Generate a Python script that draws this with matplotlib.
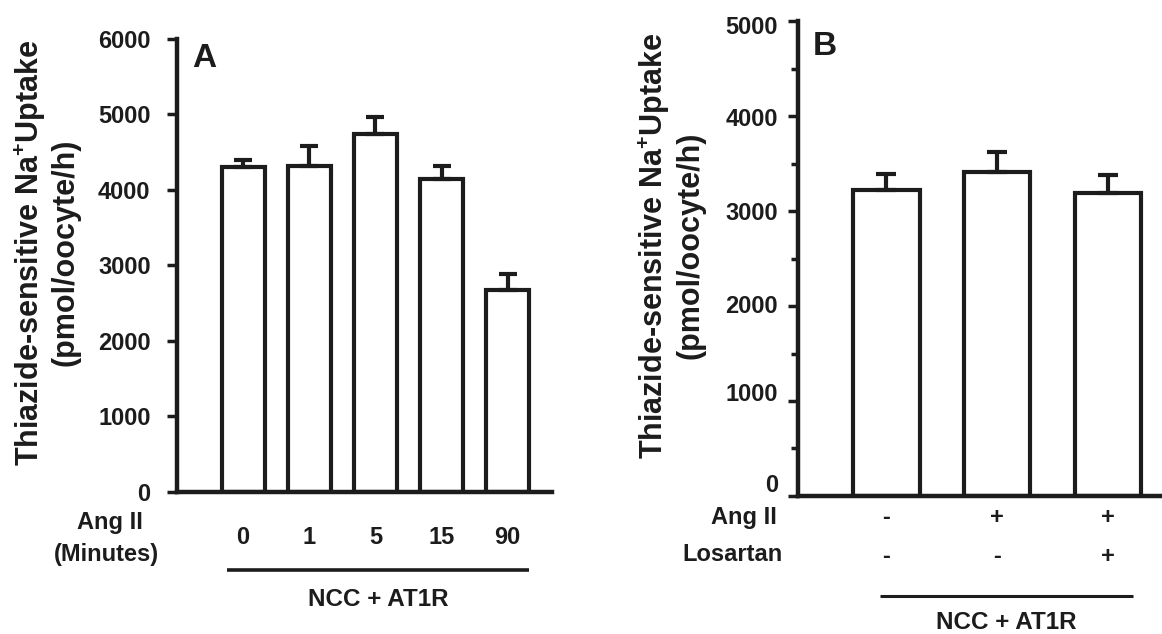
import numpy as np
import matplotlib
matplotlib.use('Agg')
import matplotlib.pyplot as plt
from matplotlib import transforms

plt.rcParams['font.family'] = 'Liberation Sans'
plt.rcParams['font.weight'] = 'bold'
plt.rcParams['mathtext.fontset'] = 'custom'
plt.rcParams['mathtext.rm'] = 'Liberation Sans:bold'
plt.rcParams['mathtext.it'] = 'Liberation Sans:bold'
plt.rcParams['mathtext.bf'] = 'Liberation Sans:bold'

INK = '#1c1c1c'

# panel A: Ang II time course
minutes = ['0', '1', '5', '15', '90']
uptake_a = [4305, 4320, 4742, 4146, 2675]
sem_a = [95, 263, 225, 172, 212]

# panel B: Ang II +/- losartan
ang_ii = ['-', '+', '+']
losartan = ['-', '-', '+']
uptake_b = [3221, 3410, 3190]
sem_b = [168, 211, 189]

ylabel = 'Thiazide-sensitive Na$^{+}$Uptake\n(pmol/oocyte/h)'

fig = plt.figure(figsize=(11.62, 6.34), dpi=100)
ax_a = fig.add_axes([0.1523, 0.224, 0.3227, 0.7145])
ax_b = fig.add_axes([0.6867, 0.2177, 0.3115, 0.749])


def style_axes(ax):
    for s in ['top', 'right']:
        ax.spines[s].set_visible(False)
    for s in ['left', 'bottom']:
        ax.spines[s].set_linewidth(3.2)
        ax.spines[s].set_color(INK)
    ax.set_xticks([])


def draw_bars(ax, x, h, err, width, cap):
    ax.bar(x, h, width=width, color='white', edgecolor=INK, linewidth=3,
           yerr=[np.zeros(len(err)), err], capsize=cap,
           error_kw=dict(ecolor=INK, elinewidth=3, capthick=3))


# ---- panel A
style_axes(ax_a)
xa = np.arange(1, len(minutes) + 1)
draw_bars(ax_a, xa, uptake_a, sem_a, 0.65, 6.2)
ax_a.set_xlim(0, 5.67)
ax_a.set_ylim(0, 6000)
ax_a.set_yticks(np.arange(0, 6001, 1000))
ax_a.tick_params(axis='y', direction='out', length=7, width=2.5, pad=12,
                 labelsize=17, colors=INK)
ax_a.text(0.04, 0.938, 'A', transform=ax_a.transAxes, fontsize=24, color=INK)
ax_a.text(-0.348, 0.528, ylabel, transform=ax_a.transAxes, rotation=90,
          ha='center', va='center', multialignment='center', fontsize=22,
          color=INK, linespacing=1.15)

trans_a = transforms.blended_transform_factory(ax_a.transData, ax_a.transAxes)
for x, m in zip(xa, minutes):
    ax_a.text(x, -0.101, m, transform=trans_a, ha='center', va='center',
              fontsize=17, color=INK)
ax_a.text(-0.179, -0.068, 'Ang II', transform=ax_a.transAxes, ha='center',
          va='center', fontsize=17, color=INK)
ax_a.text(-0.189, -0.139, '(Minutes)', transform=ax_a.transAxes, ha='center',
          va='center', fontsize=17, color=INK)
ax_a.plot([xa[0] - 0.25, xa[-1] + 0.33], [-0.172, -0.172], transform=trans_a,
          clip_on=False, lw=2.6, color=INK, solid_capstyle='butt')
ax_a.text((xa[0] + xa[-1]) / 2 + 0.04, -0.238, 'NCC + AT1R', transform=trans_a,
          ha='center', va='center', fontsize=17.5, color=INK)

# ---- panel B
style_axes(ax_b)
xb = np.arange(1, len(uptake_b) + 1)
draw_bars(ax_b, xb, uptake_b, sem_b, 0.6, 7.2)
ax_b.set_xlim(0.2, 3.47)
ax_b.set_ylim(0, 5000)
ax_b.set_yticks(np.arange(0, 5001, 1000))
ax_b.set_yticks(np.arange(500, 5000, 1000), minor=True)
ax_b.tick_params(axis='y', which='major', direction='out', length=7.5,
                 width=2.5, pad=7, labelsize=17, colors=INK)
ax_b.tick_params(axis='y', which='minor', direction='out', length=5,
                 width=2.5, colors=INK)
# the printed labels drift a little against their ticks
for lab, dy in zip(ax_b.get_yticklabels(), [9, 6.5, 1.5, 0, -1, -3]):
    lab.set_transform(lab.get_transform() +
                      transforms.ScaledTranslation(0, dy / 72, fig.dpi_scale_trans))
ax_b.text(0.041, 0.928, 'B', transform=ax_b.transAxes, fontsize=24, color=INK)
ax_b.text(-0.351, 0.528, ylabel, transform=ax_b.transAxes, rotation=90,
          ha='center', va='center', multialignment='center', fontsize=22,
          color=INK, linespacing=1.15)

trans_b = transforms.blended_transform_factory(ax_b.transData, ax_b.transAxes)
for x, a, l in zip(xb, ang_ii, losartan):
    ax_b.text(x, -0.046, a, transform=trans_b, ha='center', va='center',
              fontsize=17, color=INK)
    ax_b.text(x, -0.128, l, transform=trans_b, ha='center', va='center',
              fontsize=17, color=INK)
ax_b.text(-0.058, -0.046, 'Ang II', transform=ax_b.transAxes, ha='right',
          va='center', fontsize=17, color=INK)
ax_b.text(-0.041, -0.124, 'Losartan', transform=ax_b.transAxes, ha='right',
          va='center', fontsize=17, color=INK)
ax_b.plot([xb[0] - 0.06, xb[-1] + 0.225], [-0.2105, -0.2105], transform=trans_b,
          clip_on=False, lw=2.2, color=INK, solid_capstyle='butt')
ax_b.text((xb[0] + xb[-1]) / 2 + 0.08, -0.267, 'NCC + AT1R', transform=trans_b,
          ha='center', va='center', fontsize=17.5, color=INK)

fig.savefig('out.png', dpi=100)
